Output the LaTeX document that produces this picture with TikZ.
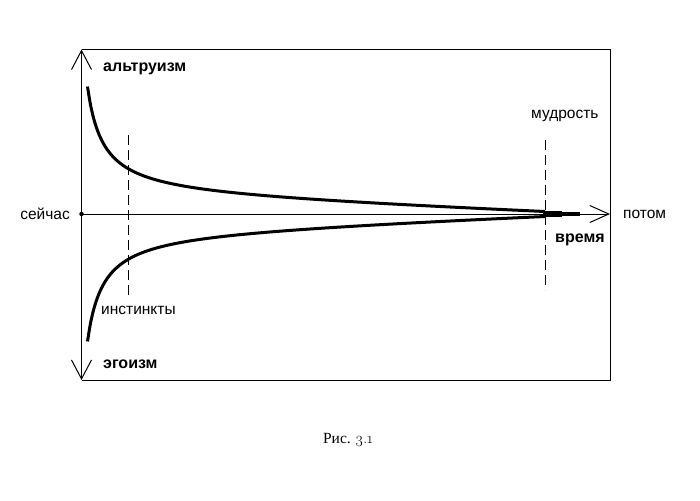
\documentclass[tikz,border=0pt]{standalone}
\usepackage{fontspec}
\setmainfont{Liberation Sans}
\newfontfamily\serifcap{Liberation Serif}
\newfontfamily\osfont[Numbers=OldStyle]{Latin Modern Roman}
\usetikzlibrary{arrows.meta}
\begin{document}
\begin{tikzpicture}[x=1pt,y=-1pt,
  thinline/.style={line width=1pt},
  curveline/.style={line width=3pt},
  guide/.style={line width=1pt, dash pattern=on 10pt off 5pt},
  lbl/.style={inner sep=0pt, font=\fontsize{15.5}{18}\selectfont},
  blbl/.style={inner sep=0pt, font=\bfseries\fontsize{16}{18}\selectfont}]
\useasboundingbox (0,0) rectangle (700,500);
\fill[white] (0,0) rectangle (700,500);
% frame
\coordinate (tl) at (81.5,49.5);
\coordinate (bl) at (81.5,380);
\coordinate (tr) at (610,49.5);
\coordinate (br) at (610,380);
\draw[thinline] (tl) -- (tr) -- (br) -- (bl);
\draw[thinline, {Straight Barb[length=19pt,width=20pt]}-{Straight Barb[length=19pt,width=20pt]}] (bl) -- (tl);
% time axis
\node[circle, fill, inner sep=0pt, minimum size=4.5pt] (now) at (81.5,214) {};
\coordinate (later) at (610,214);
\draw[thinline, -{Straight Barb[length=19pt,width=17pt]}] (now.center) -- (later);
% curves
\draw[curveline] plot[domain=87.5:545, samples=160, smooth] (\x, {214 - (1724.5/(\x-72) + 19.51 - 0.0379*\x)});
\draw[curveline] plot[domain=87.5:545, samples=160, smooth] (\x, {214 + (1724.5/(\x-72) + 19.51 - 0.0379*\x)});
\coordinate (b1) at (543,214);
\coordinate (b2) at (562,214);
\coordinate (b3) at (580,214);
\draw[line width=6pt] (b1) -- (b2);
\draw[line width=3.5pt] (b2) -- (b3);
% guides
\coordinate (i1) at (128,135);
\coordinate (i2) at (128,296);
\coordinate (w1) at (545,140);
\coordinate (w2) at (545,290);
\draw[guide] (i1) -- (i2);
\draw[guide] (w1) -- (w2);
% labels
\node[blbl, anchor=base west] (alt) at (103,72) {альтруизм};
\node[blbl, anchor=base west] (ego) at (103,368) {эгоизм};
\node[lbl, anchor=base east] (nowl) at (70,219) {сейчас};
\node[lbl, anchor=base west] (laterl) at (623,218.5) {потом};
\node[lbl, anchor=base west] (wis) at (531,118) {мудрость};
\node[blbl, anchor=base west] (time) at (555,242) {время};
\node[lbl, anchor=base west] (inst) at (101,314) {инстинкты};
\node[inner sep=0pt, anchor=base, font=\fontsize{15.5}{18}\selectfont] (cap) at (348,443) {{\serifcap Рис.}~{\osfont 3.1}};
\end{tikzpicture}
\end{document}
